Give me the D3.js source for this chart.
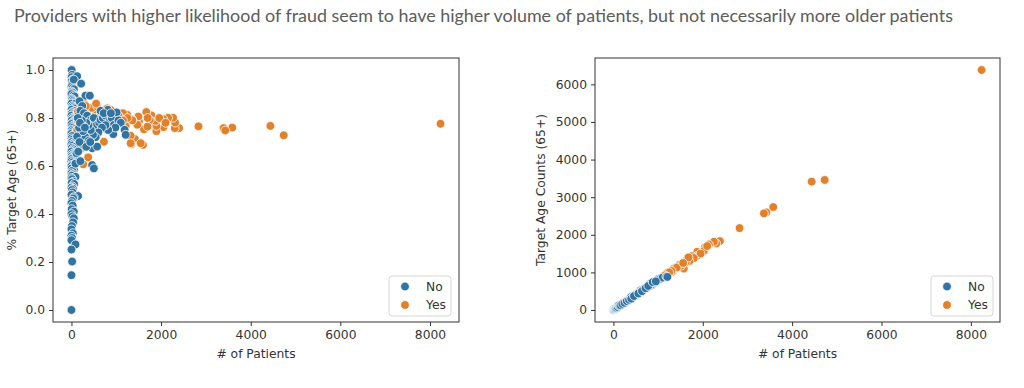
<!DOCTYPE html>
<html>
<head>
<meta charset="utf-8">
<script src="https://cdn.jsdelivr.net/npm/d3@7"></script>
<style>
  body { margin: 0; background: #fff; }
  svg { display: block; }
  .tick text { font-family: "DejaVu Sans", sans-serif; font-size: 12.3px; fill: #333; }
  .axis-label { font-family: "DejaVu Sans", sans-serif; font-size: 12.3px; fill: #333; }
  .legend-text { font-family: "DejaVu Sans", sans-serif; font-size: 12.3px; fill: #333; }
</style>
</head>
<body>
<div id="chart"></div>
<script>
const title = 'Providers with higher likelihood of fraud seem to have higher volume of patients, but not necessarily more older patients';
const classes = ['No', 'Yes'];
const xTicks = [0, 2000, 4000, 6000, 8000];
const pctTicks = [0, 0.2, 0.4, 0.6, 0.8, 1.0];
const countTicks = [0, 1000, 2000, 3000, 4000, 5000, 6000];

// left chart: [# of patients, % target age]
const noPct = [
  [0,1.0],[5,1.0],[12,0.98],[3,0.97],[20,0.96],[8,0.955],[40,0.95],[15,0.94],[2,0.93],[30,0.925],
  [55,0.92],[10,0.91],[25,0.905],[0,0.9],[45,0.895],[70,0.89],[6,0.88],[18,0.875],[35,0.87],[60,0.865],
  [1,0.86],[90,0.86],[14,0.85],[28,0.845],[50,0.84],[4,0.835],[75,0.83],[22,0.825],[9,0.82],[110,0.82],
  [38,0.815],[0,0.81],[65,0.805],[16,0.8],[85,0.8],[30,0.795],[7,0.79],[130,0.79],[48,0.785],[20,0.78],
  [2,0.775],[100,0.775],[58,0.77],[12,0.765],[35,0.76],[80,0.755],[5,0.75],[150,0.75],[25,0.745],[62,0.74],
  [0,0.735],[42,0.73],[95,0.73],[15,0.725],[120,0.72],[3,0.715],[30,0.71],[70,0.705],[10,0.7],[50,0.695],
  [0,0.69],[25,0.685],[85,0.68],[6,0.675],[40,0.67],[18,0.665],[0,0.66],[60,0.655],[12,0.65],[33,0.645],
  [2,0.64],[100,0.64],[20,0.635],[8,0.63],[45,0.625],[0,0.62],[28,0.615],[75,0.61],[14,0.605],[0,0.6],
  [38,0.595],[6,0.59],[55,0.585],[20,0.58],[0,0.57],[30,0.565],[10,0.56],[90,0.555],[0,0.55],[15,0.545],
  [40,0.535],[4,0.53],[60,0.525],[20,0.515],[0,0.51],[35,0.505],[8,0.5],[25,0.49],[0,0.48],[149,0.475],
  [50,0.47],[37,0.465],[12,0.455],[0,0.445],[28,0.435],[5,0.42],[52,0.41],[0,0.40],[22,0.39],[52,0.382],
  [37,0.365],[10,0.35],[0,0.336],[30,0.32],[0,0.31],[15,0.30],[0,0.291],[90,0.273],[0,0.252],[15,0.202],
  [0,0.145],[0,0.0],
  [127,0.974],[52,0.96],[216,0.943],[313,0.893],[410,0.893],[180,0.87],[240,0.85],[164,0.813],[200,0.83],[280,0.82],
  [350,0.81],[420,0.79],[500,0.80],[560,0.77],[620,0.78],[649,0.792],[700,0.80],[760,0.81],[813,0.834],[860,0.79],
  [900,0.80],[947,0.771],[1007,0.823],[933,0.733],[1050,0.79],[1100,0.78],[1186,0.751],[1209,0.73],[980,0.76],[820,0.75],
  [760,0.77],[680,0.76],[600,0.74],[540,0.72],[480,0.73],[430,0.75],[380,0.77],[330,0.78],[276,0.765],[230,0.79],
  [201,0.737],[127,0.723],[313,0.72],[388,0.706],[462,0.674],[574,0.681],[112,0.653],[90,0.61],[462,0.604],[500,0.59],
  [250,0.69],[180,0.70],[150,0.66],[200,0.62],[330,0.68],[420,0.70],[260,0.745],[170,0.76],[140,0.80],[190,0.78],
  [300,0.76],[650,0.83],[720,0.82],[880,0.82]
];
const yesPct = [
  [8236,0.776],[4737,0.728],[4439,0.767],[3588,0.760],[3394,0.758],[3432,0.748],[2835,0.765],[2402,0.758],[2305,0.758],[2313,0.781],
  [2268,0.801],[2156,0.801],[2052,0.795],[2052,0.762],[1895,0.745],[1895,0.767],[1880,0.788],[1783,0.811],[1746,0.792],[1671,0.825],
  [1619,0.753],[1597,0.688],[1507,0.786],[1492,0.806],[1470,0.772],[1417,0.712],[1358,0.794],[1336,0.691],[1320,0.726],[1246,0.813],
  [1209,0.767],[1149,0.820],[1097,0.779],[985,0.806],[873,0.834],[783,0.751],[724,0.701],[649,0.815],[574,0.848],[500,0.834],
  [425,0.841],[366,0.809],[388,0.737],[373,0.636],[276,0.862],[239,0.677],[261,0.607],[216,0.781],[216,0.723],[186,0.667],
  [142,0.826],[149,0.788],[127,0.751],[200,0.945],[463,0.842],[575,0.848],[720,0.82],[1359,0.79],[1695,0.764],[1545,0.695],
  [1321,0.695],[1960,0.80],[2100,0.78],[1250,0.80],[1050,0.81],[950,0.79],[600,0.80],[700,0.83],[320,0.85],[550,0.86],
  [800,0.84],[1150,0.79],[1700,0.80]
];

// right chart: [# of patients, target age counts]
const noCounts = [
  [0,0],[5,4],[10,8],[20,15],[30,25],[40,30],[50,40],[60,45],[80,60],[100,78],
  [120,124],[140,110],[160,125],[200,160],[250,190],[300,235],[350,270],[396,347],[420,330],[450,355],
  [500,409],[540,420],[600,470],[665,542],[700,560],[760,600],[830,702],[870,690],[920,730],[980,773],
  [1007,820],[1050,830],[1100,860],[1186,890],[1209,880],[400,300],[460,370],[560,440],[640,500],[720,580],
  [780,640],[880,740],[950,760]
];
const yesCounts = [
  [8240,6382],[4728,3458],[4437,3413],[3578,2738],[3421,2596],[3369,2569],[2824,2178],[2383,1831],[2301,1769],[2249,1813],
  [2137,1742],[2047,1662],[2024,1573],[1875,1547],[1875,1440],[1763,1431],[1651,1369],[1576,1102],[1487,1209],[1352,1102],
  [1315,1013],[1203,987],[1091,862],[904,747],[755,596],[605,524],[232,196],[120,124],[2100,1700],[1950,1500],
  [1800,1380],[1700,1300],[1620,1280],[1520,1180],[1420,1130],[1300,1040],[1250,1000],[1150,920],[1000,800],[850,650],
  [700,540],[500,390],[380,300],[300,240],[1680,1400],[1560,1250]
];

const colors = { No: '#3274a1', Yes: '#e1812c' };

const svg = d3.select('#chart').append('svg')
  .attr('width', 1024)
  .attr('height', 388);

svg.append('text')
  .attr('x', 14)
  .attr('y', 22)
  .style('font-family', 'Lato, sans-serif')
  .style('font-size', '17.9px')
  .style('fill', '#5c5c5c')
  .text(title);

// pad like matplotlib: 5% each side
function padded(ext) {
  const p = (ext[1] - ext[0]) * 0.05;
  return [ext[0] - p, ext[1] + p];
}

// interleave the two classes so the colours overlap like the original
function interleave(a, b) {
  const out = [];
  const n = Math.max(a.length, b.length);
  for (let i = 0; i < n; i++) {
    if (i < a.length) out.push({ v: a[i], c: 'No' });
    if (i < b.length) out.push({ v: b[i], c: 'Yes' });
  }
  return out;
}

function drawPanel(opts) {
  const { left, top, width, height, noData, yesData, yTicks, yFormat, yLabel, yLabelX, legendX, blueOnTop } = opts;
  const all = noData.concat(yesData);

  const x = d3.scaleLinear()
    .domain(padded(d3.extent(all, (d) => d[0])))
    .range([left, left + width]);
  const y = d3.scaleLinear()
    .domain(padded(d3.extent(all, (d) => d[1])))
    .range([top + height, top]);

  const g = svg.append('g');

  g.append('g')
    .attr('transform', `translate(0, ${top + height})`)
    .call(d3.axisBottom(x).tickValues(xTicks).tickFormat(d3.format('d')).tickSize(4).tickPadding(4))
    .call((a) => a.select('.domain').remove())
    .call((a) => a.selectAll('.tick line').attr('stroke', '#333'));

  g.append('g')
    .attr('transform', `translate(${left}, 0)`)
    .call(d3.axisLeft(y).tickValues(yTicks).tickFormat(yFormat).tickSize(4).tickPadding(4))
    .call((a) => a.select('.domain').remove())
    .call((a) => a.selectAll('.tick line').attr('stroke', '#333'));

  const points = blueOnTop
    ? yesData.map((v) => ({ v, c: 'Yes' })).concat(noData.map((v) => ({ v, c: 'No' })))
    : interleave(noData, yesData);
  g.append('g').selectAll('circle')
    .data(points)
    .join('circle')
    .attr('cx', (d) => x(d.v[0]))
    .attr('cy', (d) => y(d.v[1]))
    .attr('r', 4.4)
    .attr('fill', (d) => colors[d.c])
    .attr('stroke', '#fff')
    .attr('stroke-width', 0.8);

  g.append('rect')
    .attr('x', left)
    .attr('y', top)
    .attr('width', width)
    .attr('height', height)
    .attr('fill', 'none')
    .attr('stroke', '#333')
    .attr('stroke-width', 1);

  g.append('text')
    .attr('class', 'axis-label')
    .attr('x', left + width / 2)
    .attr('y', top + height + 36)
    .attr('text-anchor', 'middle')
    .text('# of Patients');

  g.append('text')
    .attr('class', 'axis-label')
    .attr('transform', `translate(${yLabelX}, ${top + height / 2}) rotate(-90)`)
    .attr('text-anchor', 'middle')
    .text(yLabel);

  // legend
  const lg = g.append('g').attr('transform', `translate(${legendX}, ${top + height - 46})`);
  lg.append('rect')
    .attr('width', 62)
    .attr('height', 40)
    .attr('rx', 3)
    .attr('fill', '#fff')
    .attr('fill-opacity', 0.8)
    .attr('stroke', '#d6d6d6');
  classes.forEach((c, i) => {
    lg.append('circle')
      .attr('cx', 16)
      .attr('cy', 10.5 + i * 18.5)
      .attr('r', 4.4)
      .attr('fill', colors[c])
      .attr('stroke', '#fff')
      .attr('stroke-width', 0.8);
    lg.append('text')
      .attr('class', 'legend-text')
      .attr('x', 37)
      .attr('y', 10.5 + i * 18.5)
      .attr('dy', '0.35em')
      .text(c);
  });
}

drawPanel({
  left: 53, top: 58, width: 406, height: 264,
  noData: noPct, yesData: yesPct,
  yTicks: pctTicks, yFormat: d3.format('.1f'),
  yLabel: '% Target Age (65+)', yLabelX: 16, legendX: 389, blueOnTop: false
});

drawPanel({
  left: 595, top: 58, width: 405, height: 264,
  noData: noCounts, yesData: yesCounts,
  yTicks: countTicks, yFormat: d3.format('d'),
  yLabel: 'Target Age Counts (65+)', yLabelX: 545, legendX: 931, blueOnTop: true
});
</script>
</body>
</html>
